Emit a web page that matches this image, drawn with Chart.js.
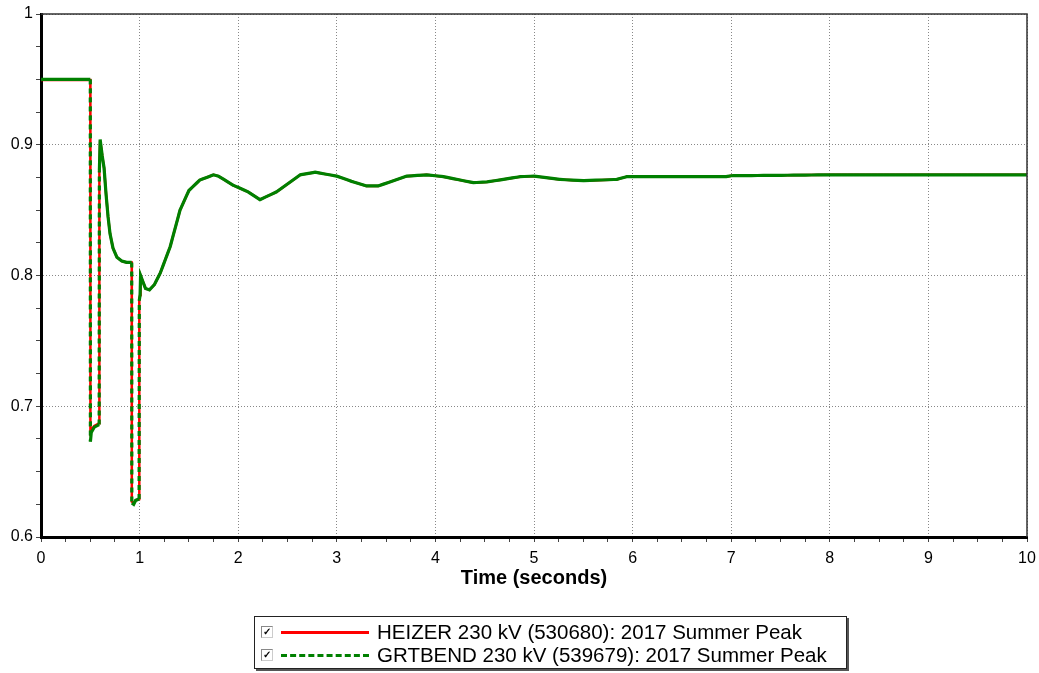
<!DOCTYPE html>
<html>
<head>
<meta charset="utf-8">
<script src="https://cdn.jsdelivr.net/npm/chart.js@4/dist/chart.umd.min.js"></script>
<style>
  html, body { margin: 0; padding: 0; background: #fff; }
  #wrap { position: relative; width: 1039px; height: 673px; }
  #c { position: absolute; left: 0; top: 0; }
  #legend {
    position: absolute; left: 254px; top: 616px; width: 591px; height: 51px;
    border: 1px solid #222; box-shadow: 2px 2px 0 #555; background: #fff;
    font-family: "Liberation Sans", Arial, sans-serif; font-size: 20.5px; color: #000;
  }
  .row { position: absolute; left: 0; height: 22px; width: 100%; }
  .cb { position: absolute; left: 6px; top: 5px; width: 10px; height: 10px; border: 1px solid #888;
        border-right-color: #ccc; border-bottom-color: #ccc; font-size: 10px; line-height: 10px; text-align: center; font-weight: bold; }
  .ln { position: absolute; left: 26px; top: 10px; width: 88px; height: 0; }
  .tx { position: absolute; left: 122px; top: 0; white-space: nowrap; line-height: 22px; }
</style>
</head>
<body>
<div id="wrap">
  <canvas id="c" width="1039" height="673"></canvas>
  <div id="legend">
    <div class="row" style="top:4px"><div class="cb">✓</div><div class="ln" style="border-top:3px solid #ff0000"></div><div class="tx">HEIZER 230 kV (530680): 2017 Summer Peak</div></div>
    <div class="row" style="top:27px"><div class="cb">✓</div><div class="ln" style="border-top:3px dashed #008000"></div><div class="tx">GRTBEND 230 kV (539679): 2017 Summer Peak</div></div>
  </div>
</div>
<script>
// ---- data ----
const times = [0.000,0.500,0.501,0.510,0.540,0.590,0.592,0.600,0.610,0.620,0.640,0.660,0.680,0.700,0.730,0.770,0.820,0.870,0.920,0.921,0.940,0.960,0.995,0.997,1.005,1.010,1.030,1.060,1.100,1.150,1.210,1.310,1.410,1.500,1.610,1.750,1.800,1.950,2.100,2.220,2.390,2.630,2.780,3.000,3.150,3.300,3.420,3.710,3.910,4.080,4.385,4.520,4.860,5.000,5.260,5.500,5.840,5.940,6.950,7.000,8.030,10.000];
const heizer = [0.9495,0.9495,0.677,0.682,0.685,0.687,0.880,0.903,0.898,0.892,0.882,0.862,0.845,0.832,0.821,0.814,0.811,0.810,0.810,0.627,0.626,0.628,0.629,0.781,0.785,0.800,0.796,0.790,0.789,0.793,0.802,0.822,0.850,0.865,0.873,0.877,0.876,0.869,0.864,0.858,0.864,0.877,0.879,0.876,0.872,0.8685,0.8685,0.876,0.877,0.8756,0.871,0.8715,0.8756,0.876,0.8735,0.8725,0.8735,0.8756,0.8756,0.8763,0.877,0.877];
const grtbend = [0.950,0.950,0.673,0.680,0.684,0.686,0.880,0.904,0.898,0.892,0.882,0.862,0.845,0.832,0.821,0.814,0.811,0.810,0.810,0.626,0.625,0.628,0.629,0.781,0.785,0.800,0.796,0.790,0.789,0.793,0.802,0.822,0.850,0.865,0.873,0.877,0.876,0.869,0.864,0.858,0.864,0.877,0.879,0.876,0.872,0.8685,0.8685,0.876,0.877,0.8756,0.871,0.8715,0.8756,0.876,0.8735,0.8725,0.8735,0.8756,0.8756,0.8763,0.877,0.877];
const xTickLabels = ['0','1','2','3','4','5','6','7','8','9','10'];
const yTickLabels = ['0.6','0.7','0.8','0.9','1'];
const seriesNames = ['HEIZER 230 kV (530680): 2017 Summer Peak','GRTBEND 230 kV (539679): 2017 Summer Peak'];

const toPts = vals => times.map((t, i) => ({ x: t, y: vals[i] }));
const isMajor = (v, step) => Math.abs(v / step - Math.round(v / step)) < 1e-6;

const framePlugin = {
  id: 'frame',
  afterDraw(chart) {
    const { ctx, chartArea: a } = chart;
    ctx.save();
    ctx.strokeStyle = '#333';
    ctx.lineWidth = 1.5;
    ctx.beginPath();
    ctx.moveTo(a.left, a.top);
    ctx.lineTo(a.right, a.top);
    ctx.lineTo(a.right, a.bottom);
    ctx.stroke();
    ctx.restore();
  }
};

const FONT = "'Liberation Sans', Arial, sans-serif";

new Chart(document.getElementById('c'), {
  type: 'line',
  data: {
    datasets: [
      {
        label: seriesNames[1], data: toPts(grtbend), borderColor: '#008000', borderWidth: 3.2,
        pointRadius: 0, tension: 0, order: 0, borderDash: [6, 0],
        segment: { borderDash: ctx => (ctx.p1.parsed.x - ctx.p0.parsed.x < 0.005 ? [5, 4] : [6, 0]) }
      },
      {
        label: seriesNames[0], data: toPts(heizer), borderColor: '#ff0000', borderWidth: 2.5,
        pointRadius: 0, tension: 0, order: 1
      }
    ]
  },
  options: {
    responsive: false, animation: false, events: [],
    layout: { padding: { left: 0, right: 12, top: 14, bottom: 76 } },
    plugins: { legend: { display: false }, tooltip: { enabled: false } },
    scales: {
      x: {
        type: 'linear', min: 0, max: 10,
        afterFit: s => { s.height = 60; s.paddingLeft = 0; s.paddingRight = 0; },
        ticks: {
          stepSize: 0.25, autoSkip: false, maxRotation: 0, padding: 7,
          color: '#000', font: { family: FONT, size: 16 },
          callback: v => isMajor(v, 1) ? xTickLabels[Math.round(v)] : ''
        },
        grid: {
          color: c => (c.tick && isMajor(c.tick.value, 1) ? '#888' : 'rgba(0,0,0,0)'),
          lineWidth: 1, tickLength: 5, tickColor: '#444', tickWidth: 1
        },
        border: { color: '#000', width: 3, dash: [1, 2] },
        title: { display: true, text: 'Time (seconds)', color: '#000',
                 font: { family: FONT, size: 20, weight: 'bold' }, padding: { top: 0, bottom: 7 } }
      },
      y: {
        type: 'linear', min: 0.6, max: 1,
        afterFit: s => { s.width = 41; s.paddingTop = 0; s.paddingBottom = 0; },
        ticks: {
          stepSize: 0.025, autoSkip: false, padding: 3,
          color: '#000', font: { family: FONT, size: 16 },
          callback: v => isMajor(v, 0.1) ? yTickLabels[Math.round((v - 0.6) * 10)] : ''
        },
        grid: {
          color: c => (c.tick && isMajor(c.tick.value, 0.1) ? '#888' : 'rgba(0,0,0,0)'),
          lineWidth: 1, tickLength: 5, tickColor: '#444', tickWidth: 1
        },
        border: { color: '#000', width: 3, dash: [1, 2] }
      }
    }
  },
  plugins: [framePlugin]
});
</script>
</body>
</html>
